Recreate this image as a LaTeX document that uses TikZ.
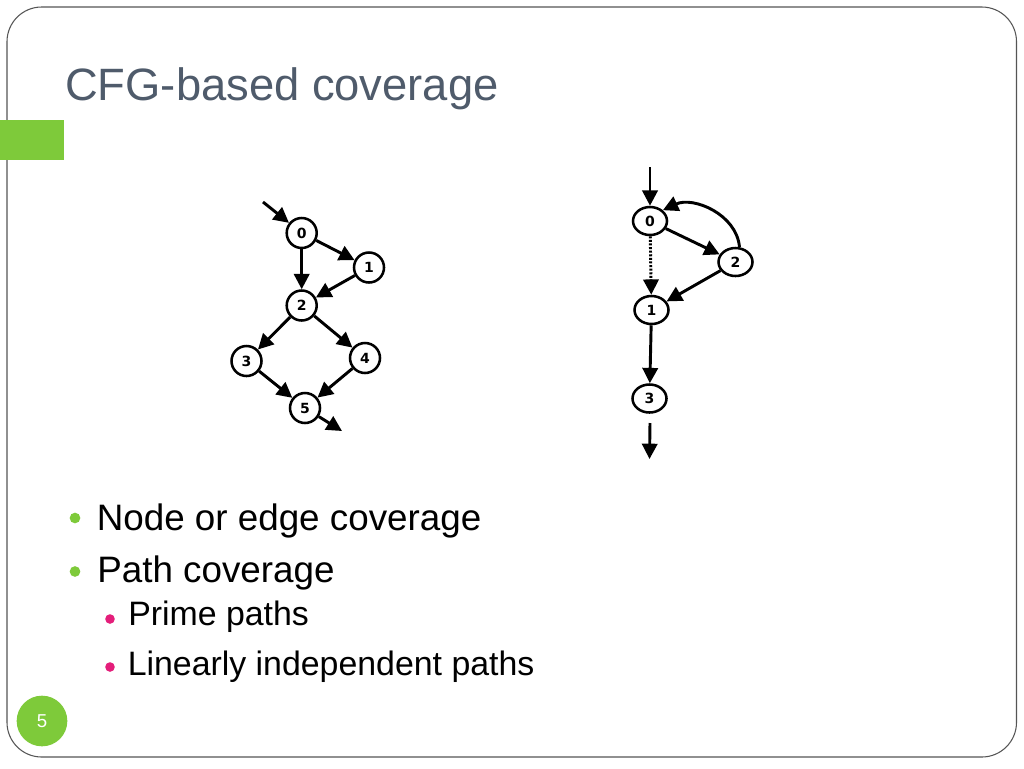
\documentclass[tikz,border=0pt]{standalone}
\usepackage{fontspec}
\setmainfont{Liberation Sans}
\newfontfamily\nodefont{DejaVu Sans}
\usetikzlibrary{arrows.meta,shapes.geometric}
\definecolor{titlecol}{RGB}{79,91,107}
\definecolor{accgreen}{RGB}{126,202,58}
\definecolor{accpink}{RGB}{228,30,122}
\definecolor{framecol}{RGB}{85,85,85}
\begin{document}
\begin{tikzpicture}[x=0.75pt,y=0.75pt,
  gnode/.style={circle,draw=black,line width=1.9pt,minimum size=22.5pt,inner sep=0pt,font=\nodefont\bfseries\fontsize{10.5}{11}\selectfont},
  enode/.style={ellipse,draw=black,line width=1.9pt,minimum width=25.5pt,minimum height=21pt,inner sep=0pt,font=\nodefont\bfseries\fontsize{10.5}{11}\selectfont},
  edge/.style={line width=2.2pt,-{Triangle[length=11.5pt,width=11.5pt]}},
  txt/.style={anchor=base west,inner sep=0pt},
  bul/.style={circle,inner sep=0pt}
]
\useasboundingbox (0,0) rectangle (1024,-768);
\fill[white] (0,0) rectangle (1024,-768);
% frame
\draw[framecol,line width=0.8pt,rounded corners=26pt] (7,-7) rectangle (1016.5,-757);
\fill[accgreen] (0,-120) rectangle (64,-160);
% title
\node[txt,text=titlecol,font=\fontsize{34}{40}\selectfont] (title) at (65,-100) {CFG-based coverage};
% left graph
\node[gnode] (a0) at (301.7,-233) {0};
\node[gnode] (a1) at (369,-267.5) {1};
\node[gnode] (a2) at (301.7,-305.5) {2};
\node[gnode] (a3) at (246.5,-361) {3};
\node[gnode] (a4) at (365,-358) {4};
\node[gnode] (a5) at (305,-408) {5};
\coordinate (ain) at (263,-202);
\coordinate (aout) at (342,-431);
\draw[edge] (ain) -- (a0);
\draw[edge] (a0) -- (a1);
\draw[edge] (a0) -- (a2);
\draw[edge] (a1) -- (a2);
\draw[edge] (a2) -- (a3);
\draw[edge] (a2) -- (a4);
\draw[edge] (a3) -- (a5);
\draw[edge] (a4) -- (a5);
\draw[edge] (a5) -- (aout);
% right graph
\node[enode] (b0) at (650,-221) {0};
\node[enode] (b2) at (735.5,-262) {2};
\node[enode] (b1) at (651.5,-310) {1};
\node[enode] (b3) at (649.5,-398.5) {3};
\coordinate (bin) at (650,-167);
\coordinate (bout1) at (650,-423);
\coordinate (bout2) at (649.5,-459);
\draw[edge] (bin) -- (b0);
\draw[edge] (b0) -- (b2);
\draw[edge,dash pattern=on 1.5pt off 1.2pt] (b0) -- (b1);
\draw[edge] (b2) -- (b1);
\draw[edge] (b1) -- (b3);
\draw[edge] (bout1) -- (bout2);
\draw[edge] (b2.75) to[out=95,in=25] (b0.40);
% bullets
\node[bul,fill=accgreen,minimum size=8pt] (d1) at (75,-518) {};
\node[bul,fill=accgreen,minimum size=8pt] (d2) at (75,-571.5) {};
\node[bul,fill=accpink,minimum size=7.2pt] (d3) at (110,-619) {};
\node[bul,fill=accpink,minimum size=7.2pt] (d4) at (110,-667) {};
\node[txt,font=\fontsize{27.6}{32}\selectfont] (t1) at (96.5,-530) {Node or edge coverage};
\node[txt,font=\fontsize{27.6}{32}\selectfont] (t2) at (97,-582) {Path coverage};
\node[txt,font=\fontsize{25.4}{30}\selectfont] (t3) at (128,-625) {Prime paths};
\node[txt,font=\fontsize{25.4}{30}\selectfont] (t4) at (127.5,-675) {Linearly independent paths};
% page number
\node[circle,fill=accgreen,minimum size=38pt,inner sep=0pt,text=white,font=\fontsize{14}{16}\selectfont] (pg) at (42,-721) {5};
\end{tikzpicture}
\end{document}
